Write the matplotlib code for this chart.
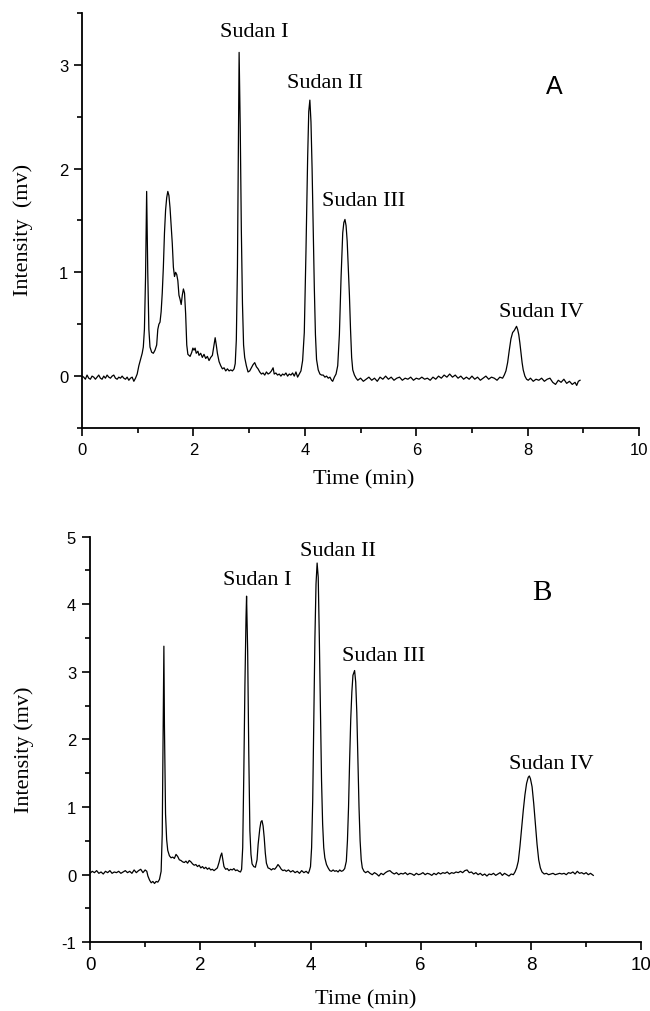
import matplotlib
matplotlib.use("Agg")
import matplotlib.pyplot as plt
from matplotlib.ticker import MultipleLocator
import numpy as np

plt.rcParams["axes.unicode_minus"] = False

# chromatogram A: (time in min, intensity in mv)
trace_a = [
    (0.00, 0.00), (0.03, -0.01), (0.06, -0.03), (0.09, 0.01), (0.12, -0.02), (0.15, -0.03),
    (0.18, 0.00), (0.21, -0.01), (0.24, -0.03), (0.27, -0.01), (0.30, 0.01), (0.33, -0.02),
    (0.36, -0.03), (0.39, 0.00), (0.42, -0.02), (0.45, 0.01), (0.48, -0.01), (0.51, -0.02),
    (0.54, 0.00), (0.57, 0.01), (0.60, -0.02), (0.63, -0.03), (0.66, -0.01), (0.69, -0.02),
    (0.72, 0.00), (0.75, -0.02), (0.78, -0.03), (0.81, -0.01), (0.84, -0.04), (0.87, -0.02),
    (0.90, -0.01), (0.93, -0.05), (0.96, -0.02), (0.99, 0.02), (1.02, 0.10), (1.05, 0.16),
    (1.08, 0.22), (1.10, 0.28), (1.12, 0.45), (1.14, 0.95), (1.16, 1.78), (1.18, 1.00),
    (1.20, 0.45), (1.22, 0.28), (1.25, 0.23), (1.28, 0.22), (1.31, 0.25), (1.34, 0.30),
    (1.36, 0.45), (1.38, 0.50), (1.40, 0.52), (1.42, 0.62), (1.44, 0.80), (1.46, 1.05),
    (1.48, 1.38), (1.50, 1.60), (1.52, 1.72), (1.54, 1.78), (1.56, 1.74), (1.58, 1.62),
    (1.60, 1.45), (1.62, 1.28), (1.64, 1.05), (1.66, 0.96), (1.68, 1.00), (1.70, 0.98),
    (1.72, 0.92), (1.74, 0.78), (1.76, 0.74), (1.78, 0.69), (1.80, 0.78), (1.82, 0.84),
    (1.84, 0.80), (1.86, 0.60), (1.88, 0.30), (1.90, 0.21), (1.92, 0.20), (1.94, 0.19),
    (1.97, 0.23), (1.99, 0.27), (2.01, 0.25), (2.03, 0.27), (2.05, 0.22), (2.08, 0.24),
    (2.10, 0.20), (2.13, 0.22), (2.16, 0.18), (2.19, 0.21), (2.22, 0.17), (2.25, 0.19),
    (2.28, 0.15), (2.31, 0.18), (2.34, 0.20), (2.37, 0.30), (2.39, 0.37), (2.41, 0.30),
    (2.43, 0.22), (2.46, 0.14), (2.49, 0.10), (2.52, 0.07), (2.55, 0.08), (2.58, 0.05),
    (2.61, 0.07), (2.64, 0.05), (2.67, 0.06), (2.70, 0.05), (2.73, 0.07), (2.75, 0.12),
    (2.77, 0.35), (2.79, 1.05), (2.81, 2.50), (2.82, 3.12), (2.84, 2.40), (2.86, 1.40),
    (2.88, 0.70), (2.90, 0.30), (2.92, 0.18), (2.95, 0.10), (2.98, 0.04), (3.01, 0.05),
    (3.04, 0.08), (3.07, 0.11), (3.10, 0.13), (3.13, 0.09), (3.16, 0.07), (3.19, 0.04),
    (3.22, 0.02), (3.25, 0.03), (3.28, 0.01), (3.31, 0.04), (3.34, 0.02), (3.37, 0.03),
    (3.40, 0.05), (3.43, 0.08), (3.45, 0.02), (3.48, 0.03), (3.51, 0.01), (3.54, 0.02),
    (3.57, 0.00), (3.60, 0.02), (3.63, 0.01), (3.66, 0.03), (3.69, 0.00), (3.72, 0.02),
    (3.75, 0.01), (3.78, 0.03), (3.81, 0.00), (3.84, 0.04), (3.87, -0.01), (3.90, 0.02),
    (3.93, 0.05), (3.96, 0.15), (3.99, 0.42), (4.02, 1.20), (4.05, 2.10), (4.07, 2.55),
    (4.09, 2.66), (4.11, 2.45), (4.13, 2.00), (4.15, 1.40), (4.17, 0.85), (4.19, 0.40),
    (4.21, 0.16), (4.24, 0.06), (4.27, 0.02), (4.30, 0.01), (4.33, 0.01), (4.36, -0.01),
    (4.39, 0.00), (4.42, -0.02), (4.45, -0.01), (4.48, -0.04), (4.50, -0.05), (4.53, -0.01),
    (4.56, 0.02), (4.59, 0.10), (4.62, 0.40), (4.65, 0.95), (4.68, 1.38), (4.70, 1.48),
    (4.72, 1.51), (4.74, 1.45), (4.76, 1.30), (4.78, 1.05), (4.80, 0.78), (4.82, 0.45),
    (4.84, 0.18), (4.86, 0.06), (4.89, 0.01), (4.92, -0.02), (4.95, -0.04), (5.00, -0.02),
    (5.05, -0.05), (5.10, -0.03), (5.15, -0.01), (5.20, -0.04), (5.25, -0.02), (5.30, -0.05),
    (5.35, -0.01), (5.40, -0.03), (5.45, 0.00), (5.50, -0.03), (5.55, -0.01), (5.60, -0.04),
    (5.65, -0.02), (5.70, -0.01), (5.75, -0.04), (5.80, -0.02), (5.85, -0.03), (5.90, -0.01),
    (5.95, -0.04), (6.00, -0.02), (6.05, -0.03), (6.10, -0.01), (6.15, -0.03), (6.20, -0.02),
    (6.25, -0.04), (6.30, -0.01), (6.35, -0.03), (6.40, 0.00), (6.45, -0.02), (6.50, 0.01),
    (6.55, -0.01), (6.60, 0.02), (6.65, -0.01), (6.70, 0.01), (6.75, -0.02), (6.80, 0.00),
    (6.85, -0.03), (6.90, -0.01), (6.95, -0.03), (7.00, 0.00), (7.05, -0.03), (7.10, -0.01),
    (7.15, -0.04), (7.20, -0.02), (7.25, 0.00), (7.30, -0.03), (7.35, -0.01), (7.40, -0.02),
    (7.45, -0.04), (7.50, -0.01), (7.55, -0.02), (7.58, 0.01), (7.61, 0.05), (7.64, 0.13),
    (7.67, 0.25), (7.70, 0.36), (7.73, 0.42), (7.76, 0.44), (7.78, 0.46), (7.80, 0.48),
    (7.82, 0.45), (7.84, 0.40), (7.86, 0.32), (7.88, 0.22), (7.90, 0.13), (7.92, 0.06),
    (7.95, 0.00), (7.98, -0.03), (8.01, -0.04), (8.05, -0.02), (8.10, -0.05), (8.15, -0.03),
    (8.20, -0.04), (8.25, -0.02), (8.30, -0.05), (8.35, -0.03), (8.40, -0.02), (8.45, -0.06),
    (8.50, -0.08), (8.55, -0.04), (8.60, -0.06), (8.65, -0.03), (8.70, -0.07), (8.75, -0.05),
    (8.80, -0.08), (8.85, -0.06), (8.88, -0.09), (8.91, -0.05), (8.94, -0.04),
]

# chromatogram B
trace_b = [
    (0.00, 0.02), (0.04, 0.05), (0.08, 0.03), (0.12, 0.06), (0.16, 0.02), (0.20, 0.04),
    (0.24, 0.01), (0.28, 0.05), (0.32, 0.03), (0.36, 0.06), (0.40, 0.02), (0.44, 0.04),
    (0.48, 0.03), (0.52, 0.05), (0.56, 0.02), (0.60, 0.04), (0.64, 0.06), (0.68, 0.03),
    (0.72, 0.05), (0.76, 0.02), (0.80, 0.07), (0.84, 0.03), (0.88, 0.06), (0.92, 0.08),
    (0.96, 0.03), (1.00, 0.07), (1.03, 0.05), (1.05, -0.02), (1.08, -0.08), (1.11, -0.12),
    (1.14, -0.10), (1.17, -0.13), (1.20, -0.10), (1.23, -0.11), (1.26, -0.07), (1.29, 0.05),
    (1.31, 0.60), (1.33, 2.50), (1.34, 3.38), (1.35, 2.20), (1.37, 0.90), (1.39, 0.52),
    (1.41, 0.36), (1.44, 0.28), (1.47, 0.25), (1.50, 0.26), (1.53, 0.24), (1.56, 0.30),
    (1.59, 0.27), (1.62, 0.22), (1.65, 0.21), (1.68, 0.19), (1.71, 0.18), (1.74, 0.20),
    (1.77, 0.17), (1.80, 0.21), (1.83, 0.19), (1.86, 0.16), (1.89, 0.14), (1.92, 0.15),
    (1.95, 0.12), (1.98, 0.14), (2.01, 0.10), (2.04, 0.12), (2.07, 0.09), (2.10, 0.11),
    (2.13, 0.08), (2.16, 0.10), (2.19, 0.07), (2.22, 0.08), (2.25, 0.06), (2.28, 0.08),
    (2.31, 0.10), (2.34, 0.18), (2.37, 0.28), (2.39, 0.32), (2.41, 0.22), (2.43, 0.12),
    (2.46, 0.08), (2.49, 0.09), (2.52, 0.06), (2.55, 0.08), (2.58, 0.07), (2.61, 0.09),
    (2.64, 0.06), (2.67, 0.07), (2.70, 0.05), (2.73, 0.04), (2.75, 0.08), (2.77, 0.40),
    (2.79, 1.50), (2.81, 2.80), (2.83, 3.80), (2.84, 4.12), (2.86, 3.30), (2.88, 1.80),
    (2.90, 0.65), (2.92, 0.30), (2.94, 0.16), (2.97, 0.12), (3.00, 0.11), (3.03, 0.22),
    (3.05, 0.45), (3.08, 0.68), (3.10, 0.78), (3.12, 0.80), (3.14, 0.72), (3.16, 0.55),
    (3.18, 0.32), (3.20, 0.17), (3.23, 0.10), (3.26, 0.09), (3.29, 0.07), (3.32, 0.09),
    (3.35, 0.08), (3.38, 0.11), (3.41, 0.15), (3.44, 0.12), (3.47, 0.08), (3.50, 0.06),
    (3.53, 0.07), (3.56, 0.05), (3.60, 0.07), (3.64, 0.04), (3.68, 0.06), (3.72, 0.03),
    (3.76, 0.05), (3.80, 0.02), (3.84, 0.06), (3.88, 0.03), (3.92, 0.05), (3.96, 0.02),
    (3.98, 0.06), (4.00, 0.12), (4.02, 0.40), (4.04, 1.10), (4.06, 2.30), (4.08, 3.50),
    (4.10, 4.30), (4.12, 4.61), (4.14, 4.40), (4.16, 3.50), (4.18, 2.40), (4.20, 1.40),
    (4.22, 0.75), (4.24, 0.40), (4.26, 0.25), (4.29, 0.15), (4.32, 0.10), (4.35, 0.06),
    (4.38, 0.05), (4.41, 0.07), (4.44, 0.05), (4.47, 0.06), (4.50, 0.04), (4.53, 0.07),
    (4.56, 0.05), (4.59, 0.06), (4.62, 0.09), (4.65, 0.20), (4.67, 0.50), (4.69, 1.00),
    (4.71, 1.70), (4.73, 2.30), (4.75, 2.70), (4.77, 2.95), (4.80, 3.02), (4.82, 2.85),
    (4.84, 2.40), (4.86, 1.70), (4.88, 1.00), (4.90, 0.50), (4.92, 0.22), (4.94, 0.10),
    (4.97, 0.05), (5.00, 0.03), (5.04, 0.05), (5.08, 0.02), (5.12, 0.00), (5.16, 0.03),
    (5.20, 0.01), (5.24, -0.02), (5.28, 0.02), (5.32, 0.00), (5.36, 0.03), (5.40, 0.05),
    (5.44, 0.06), (5.48, 0.03), (5.52, 0.01), (5.56, 0.03), (5.60, 0.00), (5.64, 0.02),
    (5.68, 0.01), (5.72, 0.03), (5.76, 0.00), (5.80, 0.02), (5.84, 0.01), (5.88, -0.01),
    (5.92, 0.02), (5.96, 0.00), (6.00, 0.01), (6.04, 0.03), (6.08, 0.00), (6.12, 0.02),
    (6.16, 0.01), (6.20, -0.01), (6.24, 0.02), (6.28, 0.00), (6.32, 0.03), (6.36, 0.01),
    (6.40, 0.03), (6.44, 0.02), (6.48, 0.04), (6.52, 0.01), (6.56, 0.03), (6.60, 0.02),
    (6.64, 0.04), (6.68, 0.03), (6.72, 0.05), (6.76, 0.03), (6.80, 0.06), (6.84, 0.07),
    (6.88, 0.03), (6.92, 0.04), (6.96, 0.01), (7.00, 0.03), (7.04, 0.00), (7.08, 0.02),
    (7.12, -0.01), (7.16, 0.01), (7.20, -0.02), (7.24, 0.01), (7.28, 0.00), (7.32, 0.02),
    (7.36, -0.01), (7.40, 0.01), (7.44, 0.03), (7.48, -0.01), (7.52, 0.02), (7.56, 0.00),
    (7.60, -0.02), (7.64, 0.01), (7.68, 0.00), (7.71, 0.04), (7.74, 0.10), (7.77, 0.20),
    (7.80, 0.42), (7.83, 0.68), (7.86, 0.95), (7.89, 1.18), (7.92, 1.35), (7.95, 1.44),
    (7.97, 1.46), (7.99, 1.42), (8.02, 1.30), (8.05, 1.05), (8.08, 0.75), (8.11, 0.45),
    (8.14, 0.22), (8.17, 0.10), (8.20, 0.04), (8.24, 0.01), (8.28, 0.02), (8.32, 0.00),
    (8.36, 0.01), (8.40, 0.02), (8.44, 0.00), (8.48, 0.01), (8.52, 0.02), (8.56, 0.01),
    (8.60, 0.02), (8.64, 0.00), (8.68, 0.03), (8.72, 0.02), (8.76, 0.04), (8.80, 0.01),
    (8.84, 0.05), (8.88, 0.02), (8.92, 0.03), (8.96, 0.01), (9.00, 0.03), (9.04, 0.00),
    (9.08, 0.02), (9.13, -0.01),
]

peak_names = ["Sudan I", "Sudan II", "Sudan III", "Sudan IV"]
# label centres (time, intensity)
label_pos_a = [(3.10, 3.32), (4.36, 2.83), (5.05, 1.69), (8.25, 0.62)]
label_pos_b = [(3.03, 4.36), (4.50, 4.79), (5.32, 3.24), (8.37, 1.65)]

SERIF = "Liberation Serif"
SANS = "Liberation Sans"

fig = plt.figure(figsize=(6.5, 10.12), dpi=100)
ax_a = fig.add_axes([0.1262, 0.5761, 0.857, 0.4101])
ax_b = fig.add_axes([0.1385, 0.0679, 0.848, 0.4008])


def style_axes(ax, ylim, xsize, ysize):
    for side in ("top", "right"):
        ax.spines[side].set_visible(False)
    for side in ("left", "bottom"):
        ax.spines[side].set_linewidth(1.3)
    ax.set_xlim(0, 10)
    ax.set_ylim(*ylim)
    ax.xaxis.set_major_locator(MultipleLocator(2))
    ax.xaxis.set_minor_locator(MultipleLocator(1))
    ax.yaxis.set_major_locator(MultipleLocator(1))
    ax.yaxis.set_minor_locator(MultipleLocator(0.5))
    ax.tick_params(which="major", length=6, width=1.2, direction="out", pad=4)
    ax.tick_params(which="minor", length=3.5, width=1.2, direction="out")
    ax.tick_params(axis="x", labelsize=xsize)
    ax.tick_params(axis="y", labelsize=ysize)
    for lab in ax.get_xticklabels() + ax.get_yticklabels():
        lab.set_fontfamily(SANS)


for ax, trace, ylim, pos, xs in ((ax_a, trace_a, (-0.5, 3.5), label_pos_a, 12),
                                 (ax_b, trace_b, (-1, 5), label_pos_b, 13.5)):
    t, v = np.array(trace).T
    ax.plot(t, v, color="black", lw=0.9)
    style_axes(ax, ylim, xs, 12)
    for name, (x, y) in zip(peak_names, pos):
        ax.text(x, y, name, family=SERIF, fontsize=16, ha="center", va="center")

ax_a.text(8.47, 2.8, "A", family=SANS, fontsize=18, ha="center", va="center")
ax_b.text(8.2, 4.18, "B", family=SERIF, fontsize=21, ha="center", va="center")

ax_a.set_ylabel("Intensity  (mv)", family=SERIF, fontsize=16, va="center")
ax_a.yaxis.set_label_coords(-0.105, 0.48)
ax_a.set_xlabel("Time (min)", family=SERIF, fontsize=16, va="center")
ax_a.xaxis.set_label_coords(0.506, -0.123)

ax_b.set_ylabel("Intensity (mv)", family=SERIF, fontsize=16, va="center")
ax_b.yaxis.set_label_coords(-0.12, 0.477)
ax_b.set_xlabel("Time (min)", family=SERIF, fontsize=16, va="center")
ax_b.xaxis.set_label_coords(0.50, -0.14)

fig.savefig("out.png", dpi=100)
